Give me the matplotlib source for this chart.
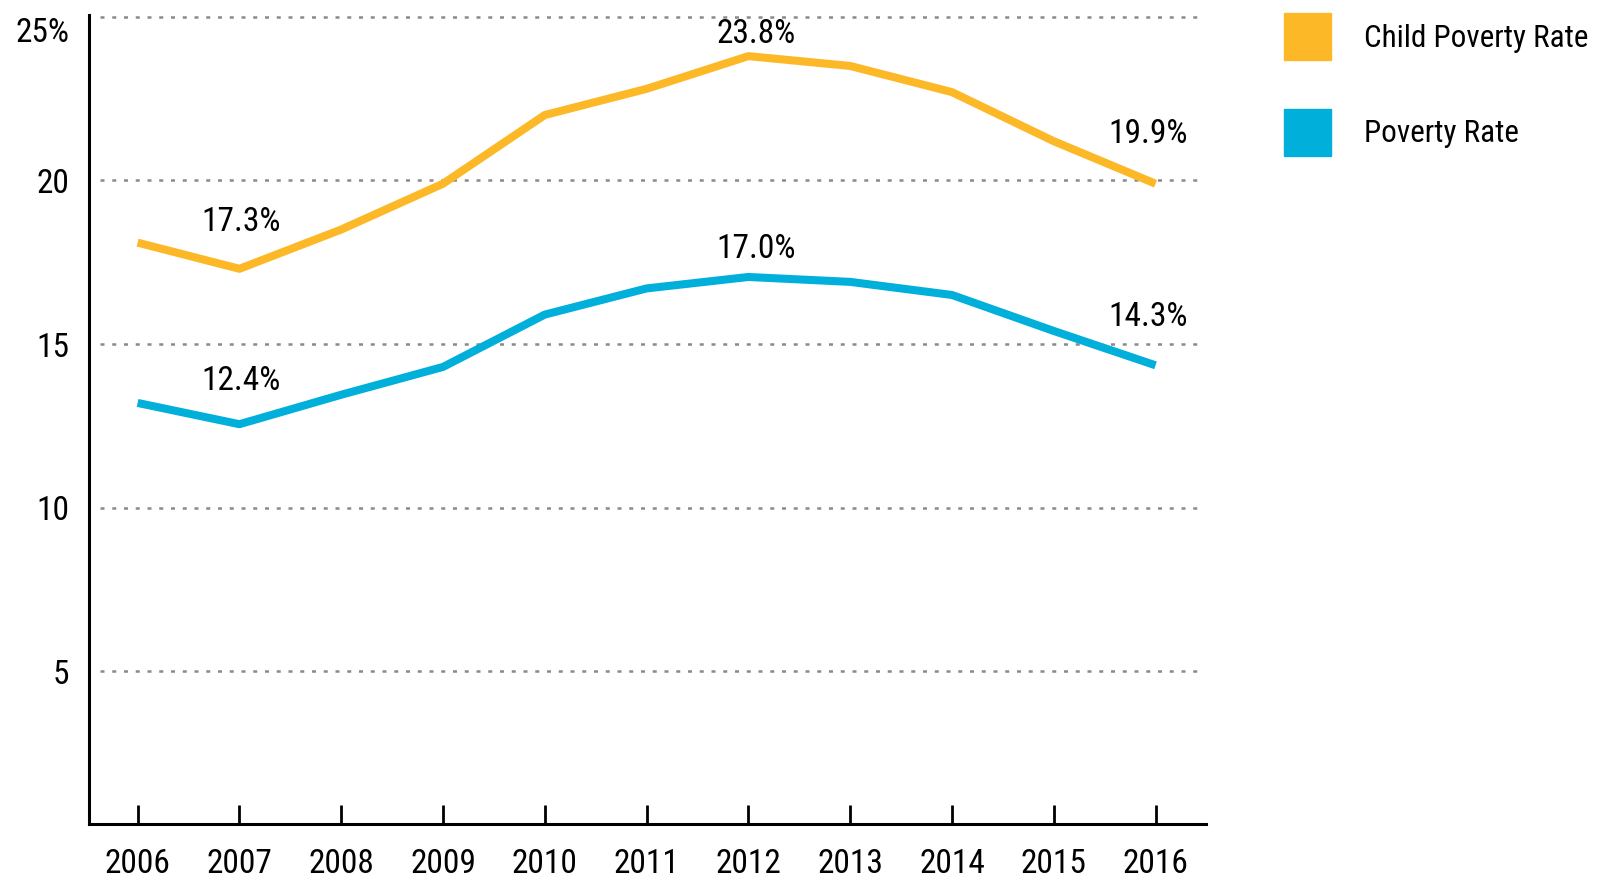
import matplotlib
matplotlib.use('Agg')
import matplotlib.pyplot as plt
from matplotlib.patches import Patch
from matplotlib.transforms import ScaledTranslation

years = [2006, 2007, 2008, 2009, 2010, 2011, 2012, 2013, 2014, 2015, 2016]
child_rate = [18.1, 17.3, 18.5, 19.9, 22.0, 22.8, 23.8, 23.5, 22.7, 21.2, 19.9]
poverty_rate = [13.2, 12.55, 13.45, 14.3, 15.9, 16.7, 17.05, 16.9, 16.5, 15.4, 14.35]
label_years = [2007, 2012, 2016]
child_labels = ['17.3%', '23.8%', '19.9%']
poverty_labels = ['12.4%', '17.0%', '14.3%']
yticks = [5, 10, 15, 20, 25]
ytick_labels = ['5', '10', '15', '20', '25%']

ORANGE = '#FDB827'
BLUE = '#00B0DB'

plt.rcParams['font.family'] = ['Roboto Condensed', 'DejaVu Sans']
fs = 24
legend_fs = 22.4

fig = plt.figure(figsize=(15.99, 8.81), dpi=100)
ax = fig.add_axes([0.0555, 0.0647, 0.699, 0.918])

# dotted guide lines, they start a bit right of the axis
ax.hlines(yticks, 2005.63, 2016.47, colors='#8a8a8a', linewidth=1.8,
          linestyles=(0, (1.6, 3.1)), zorder=1)

ax.plot(years, child_rate, color=ORANGE, lw=5.8, solid_capstyle='butt', zorder=3)
ax.plot(years, poverty_rate, color=BLUE, lw=5.8, solid_capstyle='butt', zorder=3)

# value labels
dx = {2007: 0.02, 2012: 0.08, 2016: -0.07}
dy_child = {2007: 34, 2012: 16, 2016: 36}
dy_pov = {2007: 31, 2012: 20, 2016: 35}
for yr, lab in zip(label_years, child_labels):
    v = child_rate[years.index(yr)]
    ax.annotate(lab, (yr + dx[yr], v), xytext=(0, dy_child[yr]), textcoords='offset points',
                ha='center', va='center', fontsize=fs)
for yr, lab in zip(label_years, poverty_labels):
    v = poverty_rate[years.index(yr)]
    ax.annotate(lab, (yr + dx[yr], v), xytext=(0, dy_pov[yr]), textcoords='offset points',
                ha='center', va='center', fontsize=fs)

ax.set_xlim(2005.52, 2016.5)
ax.set_ylim(0.33, 25.05)
ax.set_xticks(years)
ax.set_xticklabels([str(y) for y in years], fontsize=fs)
ax.set_yticks(yticks)
ax.set_yticklabels(ytick_labels, fontsize=fs)
top_lab = ax.get_yticklabels()[-1]
top_lab.set_va('top')
top_lab.set_transform(top_lab.get_transform() + ScaledTranslation(0, 4 / 72, fig.dpi_scale_trans))
ax.tick_params(axis='x', direction='in', length=14, width=2, pad=17)
ax.tick_params(axis='y', length=0, pad=14)

for s in ['top', 'right']:
    ax.spines[s].set_visible(False)
for s in ['left', 'bottom']:
    ax.spines[s].set_linewidth(2.2)

handles = [Patch(color=ORANGE, label='Child Poverty Rate'),
           Patch(color=BLUE, label='Poverty Rate')]
ax.legend(handles=handles, loc='upper left', bbox_to_anchor=(1.069, 1.0025),
          frameon=False, fontsize=legend_fs, handlelength=1.51, handleheight=1.94,
          handletextpad=1.06, labelspacing=1.57, borderaxespad=0, borderpad=0)

fig.savefig('out.png', dpi=100)
